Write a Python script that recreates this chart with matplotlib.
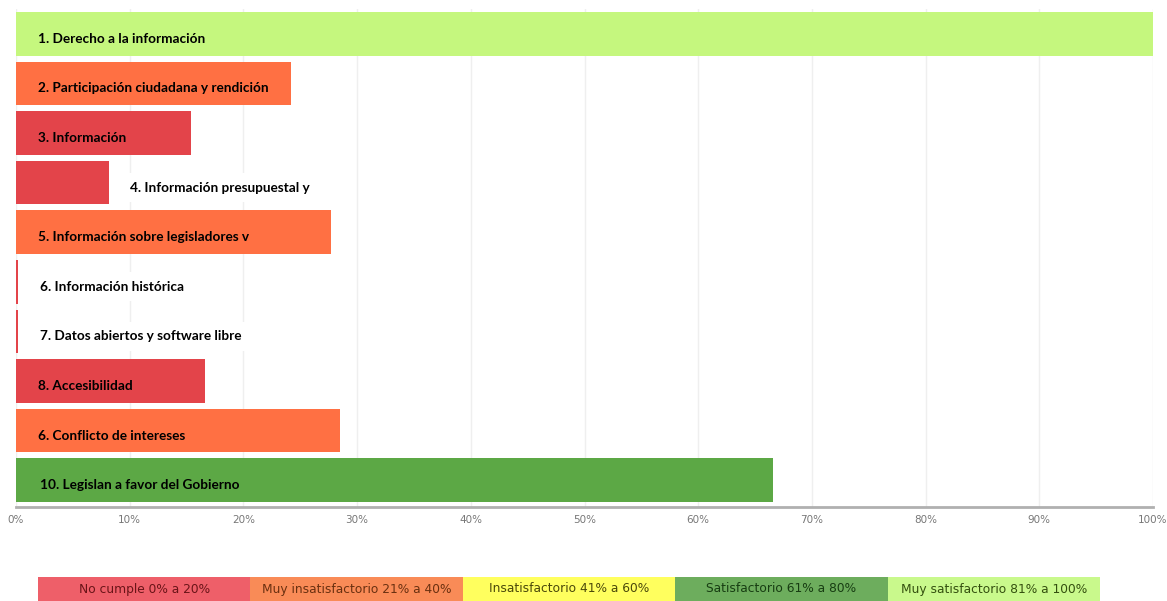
import matplotlib
matplotlib.use("Agg")
import matplotlib.pyplot as plt
from matplotlib.patches import Rectangle

# ---- data ----
labels = [
    "1. Derecho a la información",
    "2. Participación ciudadana y rendición",
    "3. Información",
    "4. Información presupuestal y",
    "5. Información sobre legisladores v",
    "6. Información histórica",
    "7. Datos abiertos y software libre",
    "8. Accesibilidad",
    "6. Conflicto de intereses",
    "10. Legislan a favor del Gobierno",
]
values = [100.0, 24.2, 15.4, 8.2, 27.7, 0.2, 0.2, 16.6, 28.5, 66.6]
bar_colors = ["#C5F77E", "#FF7043", "#E3444A", "#E3444A", "#FF7043",
              "#E3444A", "#E3444A", "#E3444A", "#FF7043", "#5CA845"]
ticks = [0, 10, 20, 30, 40, 50, 60, 70, 80, 90, 100]
tick_labels = [f"{t}%" for t in ticks]

legend_labels = ["No cumple 0% a 20%", "Muy insatisfactorio 21% a 40%",
                 "Insatisfactorio 41% a 60%", "Satisfactorio 61% a 80%",
                 "Muy satisfactorio 81% a 100%"]
legend_colors = ["#EE5F69", "#F98B57", "#FFFF5E", "#6DAD5D", "#C9F98C"]
legend_text_colors = ["#6A1418", "#6A3010", "#4A480A", "#173D12", "#34500F"]

W, H = 1167, 601
fig = plt.figure(figsize=(W / 100, H / 100), dpi=100)
fig.patch.set_facecolor("white")

ax = fig.add_axes([16 / W, 1 - 507 / H, (1153 - 16) / W, (507 - 9) / H])
y = list(range(len(labels)))
ax.barh(y, values, height=0.88, color=bar_colors, zorder=2)
ax.set_xlim(0, 100)
ax.set_ylim(9.54, -0.5)
ax.set_xticks(ticks)
ax.set_xticklabels(tick_labels, fontsize=7.5, color="#777777", family="DejaVu Sans")
ax.set_yticks([])
ax.tick_params(axis="x", length=0, pad=6)
ax.grid(axis="x", color="#efefef", linewidth=1, zorder=0)
ax.set_axisbelow(True)
for s in ["top", "right", "left"]:
    ax.spines[s].set_visible(False)
ax.spines["bottom"].set_color("#b0b0b0")
ax.spines["bottom"].set_linewidth(2)

label_x = [1.95, 1.95, 1.95, 10.0, 1.95, 2.1, 2.1, 1.95, 1.95, 2.1]
white_box = [False, False, False, True, False, True, True, False, False, False]
for i, (lab, lx) in enumerate(zip(labels, label_x)):
    kw = {}
    if white_box[i]:
        kw["bbox"] = dict(facecolor="white", edgecolor="none", pad=6)
    ax.text(lx, i + 0.1, lab, va="center", ha="left", fontsize=9.8,
            fontweight="bold", family=["Lato", "DejaVu Sans"], color="black",
            zorder=3, **kw)

# legend strip
lx0, lx1 = 38, 1100
seg_w = (lx1 - lx0) / len(legend_labels)
for i, (lab, c, tc) in enumerate(zip(legend_labels, legend_colors, legend_text_colors)):
    x0 = (lx0 + i * seg_w) / W
    fig.patches.append(Rectangle((x0, 0), seg_w / W, 24 / H, transform=fig.transFigure,
                                 facecolor=c, edgecolor="none"))
    fig.text(x0 + seg_w / W / 2, 12 / H, lab, ha="center", va="center",
             fontsize=8.8, color=tc, family="DejaVu Sans")

fig.savefig("out.png", dpi=100)
